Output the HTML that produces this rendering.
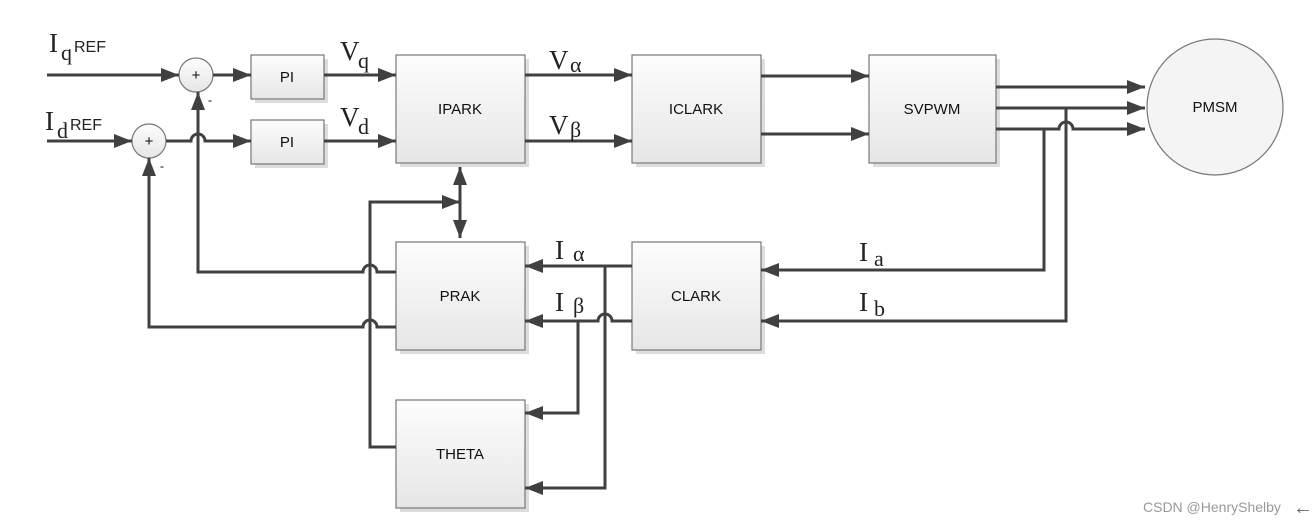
<!DOCTYPE html>
<html><head><meta charset="utf-8"><style>
html,body{margin:0;padding:0;background:#fff;width:1313px;height:525px;overflow:hidden}
svg text{font-family:"Liberation Sans",sans-serif}
.s{font-family:"Liberation Serif",serif;font-size:27px;fill:#222}
.sub{font-family:"Liberation Serif",serif;font-size:22px;fill:#222}
.b{font-size:15px;fill:#111;text-anchor:middle}
</style></head><body>
<svg width="1313" height="525" viewBox="0 0 1313 525" xmlns="http://www.w3.org/2000/svg">
<defs>
<linearGradient id="g" x1="0" y1="0" x2="0" y2="1"><stop offset="0" stop-color="#fdfdfd"/><stop offset="1" stop-color="#e6e6e6"/></linearGradient>
<marker id="A" viewBox="0 0 18 14" refX="18" refY="7" markerWidth="18" markerHeight="14" orient="auto-start-reverse" markerUnits="userSpaceOnUse"><path d="M0,0L18,7L0,14z" fill="#404040"/></marker>
</defs>
<g fill="url(#g)" stroke="#777" stroke-width="1.2">
<rect x="255" y="59" width="73" height="44" fill="#ddd" stroke="none"/>
<rect x="251" y="55" width="73" height="44"/>
<rect x="255" y="124" width="73" height="44" fill="#ddd" stroke="none"/>
<rect x="251" y="120" width="73" height="44"/>
<rect x="400" y="59" width="129" height="108" fill="#ddd" stroke="none"/>
<rect x="396" y="55" width="129" height="108"/>
<rect x="636" y="59" width="129" height="108" fill="#ddd" stroke="none"/>
<rect x="632" y="55" width="129" height="108"/>
<rect x="873" y="59" width="127" height="108" fill="#ddd" stroke="none"/>
<rect x="869" y="55" width="127" height="108"/>
<rect x="400" y="246" width="129" height="108" fill="#ddd" stroke="none"/>
<rect x="396" y="242" width="129" height="108"/>
<rect x="636" y="246" width="129" height="108" fill="#ddd" stroke="none"/>
<rect x="632" y="242" width="129" height="108"/>
<rect x="400" y="404" width="129" height="108" fill="#ddd" stroke="none"/>
<rect x="396" y="400" width="129" height="108"/>
<circle cx="1215" cy="107" r="68" fill="#f4f4f4"/>
<circle cx="196" cy="75" r="17"/>
<circle cx="149" cy="141" r="17"/>
</g>
<g fill="none" stroke="#404040" stroke-width="3">
<path d="M47,75H179" marker-end="url(#A)"/>
<path d="M213,75H251" marker-end="url(#A)"/>
<path d="M324,75H396" marker-end="url(#A)"/>
<path d="M47,141H132" marker-end="url(#A)"/>
<path d="M166,141H191a7,7 0 0 1 14,0H251" marker-end="url(#A)"/>
<path d="M324,141H396" marker-end="url(#A)"/>
<path d="M525,75H632" marker-end="url(#A)"/>
<path d="M525,141H632" marker-end="url(#A)"/>
<path d="M761,76H869" marker-end="url(#A)"/>
<path d="M761,134H869" marker-end="url(#A)"/>
<path d="M996,87H1145" marker-end="url(#A)"/>
<path d="M996,108H1145" marker-end="url(#A)"/>
<path d="M996,129H1059a7,7 0 0 1 14,0H1145" marker-end="url(#A)"/>
<path d="M1066,108V321H761" marker-end="url(#A)"/>
<path d="M1044,129V270H761" marker-end="url(#A)"/>
<path d="M632,266H525" marker-end="url(#A)"/>
<path d="M632,321H612a7,7 0 0 0 -14,0H525" marker-end="url(#A)"/>
<path d="M605,266V488H525" marker-end="url(#A)"/>
<path d="M578,321V413H525" marker-end="url(#A)"/>
<path d="M396,447H370V202H460" marker-end="url(#A)"/>
<path d="M460,167V238" marker-start="url(#A)" marker-end="url(#A)"/>
<path d="M396,272H377a7,7 0 0 0 -14,0H198V92" marker-end="url(#A)"/>
<path d="M396,327H377a7,7 0 0 0 -14,0H149V158" marker-end="url(#A)"/>
</g>
<text x="196" y="80" class="b" font-size="13">+</text>
<text x="149" y="146" class="b" font-size="13">+</text>
<text x="208" y="104" font-size="12">-</text>
<text x="160" y="170" font-size="12">-</text>
<text x="287" y="82" class="b">PI</text>
<text x="287" y="147" class="b">PI</text>
<text x="460" y="114" class="b">IPARK</text>
<text x="696" y="114" class="b">ICLARK</text>
<text x="932" y="114" class="b">SVPWM</text>
<text x="1215" y="112" class="b">PMSM</text>
<text x="460" y="301" class="b">PRAK</text>
<text x="696" y="301" class="b">CLARK</text>
<text x="460" y="459" class="b">THETA</text>
<text x="49" y="52" class="s">I</text><text x="61" y="60" class="sub">q</text><text x="74" y="52" font-size="16" fill="#222">REF</text>
<text x="45" y="130" class="s">I</text><text x="57" y="138" class="sub">d</text><text x="70" y="130" font-size="16" fill="#222">REF</text>
<text x="340" y="60" class="s">V</text><text x="358" y="68" class="sub">q</text>
<text x="340" y="126" class="s">V</text><text x="358" y="134" class="sub">d</text>
<text x="549" y="69" class="s">V</text><text x="570" y="72" class="sub">α</text>
<text x="549" y="134" class="s">V</text><text x="570" y="137" class="sub">β</text>
<text x="555" y="259" class="s">I</text><text x="573" y="261" class="sub">α</text>
<text x="555" y="311" class="s">I</text><text x="573" y="313" class="sub">β</text>
<text x="859" y="261" class="s">I</text><text x="874" y="266" class="sub">a</text>
<text x="859" y="311" class="s">I</text><text x="874" y="316" class="sub">b</text>
<text x="1143" y="512" font-size="14" fill="#999">CSDN @HenryShelby</text>
<text x="1293" y="514" font-size="20" fill="#666">←</text>
</svg>
</body></html>
